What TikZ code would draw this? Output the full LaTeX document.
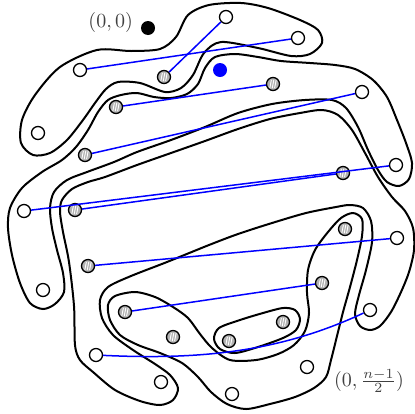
\documentclass[tikz,border=0pt]{standalone}
\usepackage{amsmath}
\begin{document}
\begin{tikzpicture}[x=0.5pt,y=-0.5pt,
  outline/.style={line width=1pt,line join=round},
  pairline/.style={blue,line width=0.75pt},
  wpt/.style={circle,draw,line width=0.65pt,fill=white,minimum size=6.5pt,inner sep=0pt},
  hpt/.style={circle,draw,line width=0.65pt,fill=gray!60,minimum size=6.5pt,inner sep=0pt,
    path picture={\foreach \d in {-1.2,0,1.2}
      \draw[white,line width=0.45pt] ([shift={(\d pt-0.4pt,-2.1pt)}]path picture bounding box.center) -- ++(0.8pt,4.2pt);}},
  dot/.style={circle,fill=black,minimum size=7pt,inner sep=0pt}]
\useasboundingbox (0,0) rectangle (415,413);
\draw[outline] plot[smooth cycle] coordinates {(97,50) (131,51) (160,49) (176,37) (188,15) (209,5) (241,3) (268,8) (300,20) (318,30) (322,43) (310,54) (291,56) (258,48) (221,42) (204,53) (193,75) (181,88) (165,92) (140,83) (118,82) (106,89) (95,103) (83,120) (67,140) (50,153) (33,155) (21,143) (22,120) (35,95) (60,67)};
\draw[outline] plot[smooth cycle] coordinates {(108,100) (121,95) (137,93) (154,97) (171,98) (187,94) (198,84) (205,68) (215,57) (235,54) (258,57) (281,61) (310,63) (335,65) (355,69) (373,80) (387,97) (397,120) (406,143) (412,163) (409,179) (399,186) (387,182) (378,170) (368,150) (358,127) (346,108) (332,100) (305,100) (272,104) (238,113) (205,127) (171,140) (137,152) (114,162) (87,172) (67,180) (54,192) (50,208) (52,228) (57,250) (63,273) (64,292) (55,304) (43,309) (30,303) (20,283) (12,255) (8,228) (10,208) (22,188) (42,172) (62,160) (76,147) (88,130) (98,112)};
\draw[outline] plot[smooth cycle] coordinates {(62,200) (72,189) (88,182) (105,177) (137,165) (171,153) (205,141) (238,129) (270,119) (300,113) (322,110) (338,115) (352,130) (365,153) (378,177) (392,197) (405,211) (413,228) (414,250) (409,272) (401,292) (391,312) (380,326) (370,330) (360,326) (355,314) (359,295) (366,270) (372,242) (371,221) (363,208) (350,205) (336,207) (306,213) (272,223) (238,234) (209,245) (167,262) (131,276) (108,287) (100,300) (102,318) (113,335) (133,350) (155,364) (170,375) (178,388) (173,400) (160,405) (140,401) (115,390) (93,372) (80,360) (75,345) (74,306) (69,262) (63,232) (60,212)};
\draw[outline] plot[smooth cycle] coordinates {(115,296) (135,292) (155,297) (173,307) (188,318) (200,334) (212,348) (230,360) (256,360) (278,354) (294,345) (305,331) (309,313) (307,293) (308,270) (315,250) (328,232) (341,218) (353,213) (362,219) (362,236) (357,260) (350,287) (343,312) (337,336) (331,360) (326,377) (314,388) (295,397) (270,404) (246,409) (227,404) (211,392) (198,377) (182,363) (160,353) (138,345) (120,335) (110,320) (108,305)};
\draw[outline] plot[smooth cycle] coordinates {(219,328) (214,339) (220,349) (235,353) (258,347) (283,338) (296,330) (300,319) (295,310) (283,308) (263,313) (240,320)};
\node[wpt] (w1) at (226,17) {};
\node[wpt] (w2) at (298,38) {};
\node[wpt] (w3) at (80,70) {};
\node[wpt] (w4) at (38,133) {};
\node[wpt] (w6) at (362,92) {};
\node[wpt] (w7) at (396,165) {};
\node[wpt] (w8) at (24,211) {};
\node[wpt] (w9) at (397,238) {};
\node[wpt] (w10) at (43,290) {};
\node[wpt] (w11) at (370,310) {};
\node[wpt] (w12) at (96,355) {};
\node[wpt] (w13) at (161,382) {};
\node[wpt] (w14) at (307,367) {};
\node[wpt] (w15) at (232,394) {};
\node[hpt] (h1) at (164,77) {};
\node[hpt] (h2) at (116,107) {};
\node[hpt] (h3) at (273,84) {};
\node[hpt] (h4) at (85,155) {};
\node[hpt] (h6) at (343,173) {};
\node[hpt] (h7) at (75,210) {};
\node[hpt] (h8) at (345,229) {};
\node[hpt] (h9) at (88,266) {};
\node[hpt] (h10) at (322,283) {};
\node[hpt] (h11) at (125,312) {};
\node[hpt] (h12) at (173,337) {};
\node[hpt] (h13) at (283,322) {};
\node[hpt] (h14) at (229,341) {};
\node[dot] (origin) at (148,28) {};
\node[dot,fill=blue] (bdot) at (220,70) {};
\draw[pairline] (h1) -- (w1);
\draw[pairline] (w3) -- (w2);
\draw[pairline] (h2) -- (h3);
\draw[pairline] (h4) -- (w6);
\draw[pairline] (w8) -- (w7);
\draw[pairline] (h7) -- (h6);
\draw[pairline] (h9) -- (w9);
\draw[pairline] (h11) -- (h10);
\draw[pairline] (w12) .. controls (200,360) and (280,352) .. (w11);
\node[text=black!75,anchor=east] (lorigin) at (140,22) {$(0,0)$};
\node[text=black!75] (lmid) at (369,381) {$(0,\frac{n-1}{2})$};
\end{tikzpicture}
\end{document}
